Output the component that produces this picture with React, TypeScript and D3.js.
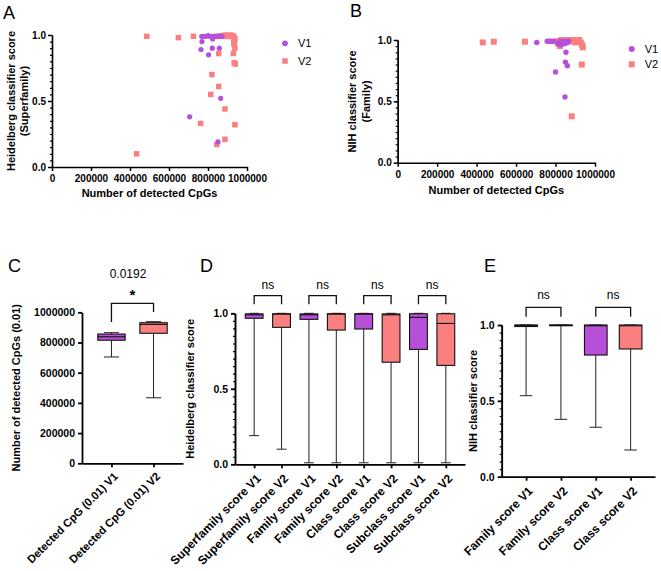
import * as d3 from "d3";
import { useEffect, useRef } from "react";

const FONT = "'Liberation Sans', Arial, Helvetica, sans-serif";
const PURPLE = "#B650D9";
const SALMON = "#FA8080";

// scatter panels: [number of detected CpGs, classifier score]
const heidelbergV1 = [
    [768000, 0.99], [778000, 0.99], [790000, 0.99], [800000, 0.995], [810000, 0.99], [818000, 0.99],
    [826000, 0.985], [834000, 0.99], [842000, 0.99], [850000, 0.99], [858000, 0.99], [866000, 0.99],
    [872000, 0.99], [824000, 0.97], [769000, 0.95], [764000, 0.89], [822000, 0.90], [858000, 0.90],
    [803000, 0.85], [865000, 0.52], [706000, 0.38], [851000, 0.19],
];
const heidelbergV2 = [
    [486000, 0.99], [648000, 0.98], [725000, 0.99], [840000, 0.99], [860000, 0.99], [870000, 0.995],
    [880000, 0.99], [888000, 1.0], [895000, 0.99], [902000, 0.995], [908000, 0.99], [914000, 1.0],
    [920000, 0.99], [925000, 0.995], [930000, 0.99], [935000, 0.98], [938000, 0.97], [932000, 0.96],
    [936000, 0.95], [933000, 0.93], [938000, 0.90], [930000, 0.86], [934000, 0.79], [940000, 0.78],
    [855000, 0.86], [820000, 0.70], [855000, 0.61], [814000, 0.55], [887000, 0.44], [762000, 0.33],
    [938000, 0.32], [887000, 0.21], [845000, 0.17], [434000, 0.10],
];
const nihV1 = [
    [705000, 0.98], [758000, 0.99], [768000, 0.99], [778000, 0.99], [789000, 0.99], [812000, 0.97],
    [818000, 0.99], [825000, 0.96], [830000, 0.98], [838000, 0.99], [845000, 0.97], [852000, 0.99],
    [860000, 0.98], [866000, 0.99], [853000, 0.90], [850000, 0.82], [860000, 0.79], [800000, 0.74],
    [848000, 0.535],
];
const nihV2 = [
    [431000, 0.98], [487000, 0.986], [645000, 0.986], [808000, 0.99], [815000, 0.97], [822000, 0.95],
    [830000, 1.0], [840000, 0.99], [850000, 0.98], [860000, 1.0], [870000, 0.99], [880000, 0.99],
    [890000, 1.0], [900000, 0.98], [910000, 0.99], [920000, 1.0], [928000, 0.98], [935000, 0.96],
    [938000, 0.94], [933000, 0.80], [882000, 0.378],
];
const cpgTicks = [0, 200000, 400000, 600000, 800000, 1000000];
const scoreTicks = [0, 0.5, 1.0];

// box panels: [min, q1, median, q3, max]
const cpgCategories = ["Detected CpG (0.01) V1", "Detected CpG (0.01) V2"];
const cpgStats = [
    [704000, 815000, 838000, 856000, 865000],
    [434000, 861000, 920000, 931000, 938000],
];
const heidelCategories = [
    "Superfamily score V1", "Superfamily score V2", "Family score V1", "Family score V2",
    "Class score V1", "Class score V2", "Subclass score V1", "Subclass score V2",
];
const heidelStats = [
    [0.19, 0.967, 0.99, 0.996, 1.0],
    [0.10, 0.907, 0.995, 0.997, 1.0],
    [0.01, 0.96, 0.99, 0.996, 1.0],
    [0.01, 0.889, 0.995, 0.997, 1.0],
    [0.01, 0.896, 0.995, 0.997, 1.0],
    [0.01, 0.676, 0.99, 0.996, 1.0],
    [0.01, 0.761, 0.973, 0.997, 1.0],
    [0.01, 0.655, 0.933, 0.997, 1.0],
];
const nihCategories = ["Family score V1", "Family score V2", "Class score V1", "Class score V2"];
const nihStats = [
    [0.534, 0.99, 0.998, 1.0, 1.0],
    [0.378, 0.995, 0.999, 1.0, 1.0],
    [0.326, 0.802, 0.995, 1.0, 1.0],
    [0.176, 0.842, 0.995, 1.0, 1.0],
];

const styleAxis = (g, size, width) => {
    g.select(".domain").attr("stroke", "#000").attr("stroke-width", width);
    g.selectAll(".tick line").attr("stroke", "#000").attr("stroke-width", width);
    g.selectAll("text")
        .attr("font-family", FONT)
        .attr("font-weight", "bold")
        .attr("font-size", size)
        .attr("fill", "#000");
};

const rotLabel = (svg, text, x, y, size) => {
    svg.append("text")
        .attr("transform", `translate(${x},${y}) rotate(-90)`)
        .attr("text-anchor", "middle")
        .attr("dy", "0.35em")
        .attr("font-family", FONT)
        .attr("font-weight", "bold")
        .attr("font-size", size)
        .text(text);
};

const plainText = (svg, text, x, y, size, anchor = "start", weight = "normal") => {
    svg.append("text")
        .attr("x", x)
        .attr("y", y)
        .attr("text-anchor", anchor)
        .attr("font-family", FONT)
        .attr("font-weight", weight)
        .attr("font-size", size)
        .text(text);
};

const scatterPanel = (svg, o) => {
    const x = d3.scaleLinear().domain([0, 1000000]).range([o.x0, o.x1]);
    const y = d3.scaleLinear().domain([0, 1]).range([o.y0, o.y1]);

    const minor = svg.append("g")
        .attr("transform", `translate(${o.x0},0)`)
        .call(d3.axisLeft(y).tickValues(d3.range(0, 1.001, 0.05)).tickSize(2).tickSizeOuter(0).tickFormat(() => ""));
    styleAxis(minor, 10, 1.2);

    const yAxis = svg.append("g")
        .attr("transform", `translate(${o.x0},0)`)
        .call(d3.axisLeft(y).tickValues(scoreTicks).tickFormat(d3.format(".1f")).tickSize(4).tickSizeOuter(0).tickPadding(2));
    styleAxis(yAxis, 10, 1.5);

    const xAxis = svg.append("g")
        .attr("transform", `translate(0,${o.y0})`)
        .call(d3.axisBottom(x).tickValues(cpgTicks).tickFormat(d3.format("d")).tickSize(4).tickSizeOuter(0).tickPadding(4));
    styleAxis(xAxis, 10, 1.5);

    svg.append("g")
        .selectAll("rect")
        .data(o.v2)
        .join("rect")
        .attr("x", d => x(d[0]) - o.sq / 2)
        .attr("y", d => y(d[1]) - o.sq / 2)
        .attr("width", o.sq)
        .attr("height", o.sq)
        .attr("fill", SALMON);

    svg.append("g")
        .selectAll("circle")
        .data(o.v1)
        .join("circle")
        .attr("cx", d => x(d[0]))
        .attr("cy", d => y(d[1]))
        .attr("r", o.r)
        .attr("fill", PURPLE);

    o.yTitle.forEach((t, i) => rotLabel(svg, t, o.yTitleX[i], (o.y0 + o.y1) / 2, 11));
    plainText(svg, "Number of detected CpGs", (o.x0 + o.x1) / 2, o.xTitleY, 11, "middle", "bold");

    svg.append("circle").attr("cx", o.legX).attr("cy", o.legY[0]).attr("r", o.r + 0.3).attr("fill", PURPLE);
    svg.append("rect")
        .attr("x", o.legX - o.sq / 2).attr("y", o.legY[1] - o.sq / 2)
        .attr("width", o.sq).attr("height", o.sq).attr("fill", SALMON);
    plainText(svg, "V1", o.legX + 13, o.legY[0] + 4, 11);
    plainText(svg, "V2", o.legX + 13, o.legY[1] + 4, 11);
};

const boxPanel = (svg, o) => {
    const x = d3.scalePoint().domain(o.cats).range([o.xl, o.xr]).padding(0.7);
    const y = d3.scaleLinear().domain(o.yDomain).range([o.yb, o.yt]);
    const bw = x.step() * 0.65;
    const cw = bw * 0.55;

    if (o.minor) {
        const minor = svg.append("g")
            .attr("transform", `translate(${o.xl},0)`)
            .call(d3.axisLeft(y).tickValues(d3.range(0, 1.001, 0.05)).tickSize(2).tickSizeOuter(0).tickFormat(() => ""));
        styleAxis(minor, 10, 1.2);
    }
    const yAxis = svg.append("g")
        .attr("transform", `translate(${o.xl},0)`)
        .call(d3.axisLeft(y).tickValues(o.yTicks).tickFormat(o.yFmt).tickSize(4).tickSizeOuter(0).tickPadding(3));
    styleAxis(yAxis, 10.5, 1.8);

    const xAxis = svg.append("g")
        .attr("transform", `translate(0,${o.yb})`)
        .call(d3.axisBottom(x).tickSize(4).tickSizeOuter(0));
    styleAxis(xAxis, o.catFont, 1.8);
    xAxis.selectAll("text")
        .attr("text-anchor", "end")
        .attr("x", 0)
        .attr("y", 0)
        .attr("dy", "0.35em")
        .attr("transform", `translate(4,${o.catDy}) rotate(-45)`);

    const g = svg.append("g");
    o.stats.forEach((s, i) => {
        const cx = x(o.cats[i]);
        const [mn, q1, md, q3, mx] = s;
        g.append("line").attr("x1", cx).attr("x2", cx).attr("y1", y(mn)).attr("y2", y(mx))
            .attr("stroke", "#222").attr("stroke-width", 1);
        [mn, mx].forEach(v => {
            g.append("line").attr("x1", cx - cw / 2).attr("x2", cx + cw / 2).attr("y1", y(v)).attr("y2", y(v))
                .attr("stroke", "#222").attr("stroke-width", 1);
        });
        g.append("rect")
            .attr("x", cx - bw / 2).attr("y", y(q3))
            .attr("width", bw).attr("height", Math.max(y(q1) - y(q3), 0.5))
            .attr("fill", i % 2 === 0 ? PURPLE : SALMON)
            .attr("stroke", "#111").attr("stroke-width", 1.1);
        g.append("line").attr("x1", cx - bw / 2).attr("x2", cx + bw / 2).attr("y1", y(md)).attr("y2", y(md))
            .attr("stroke", "#111").attr("stroke-width", 1.1);
    });

    o.pairs.forEach(([a, b], k) => {
        const xa = x(o.cats[a]);
        const xb = x(o.cats[b]);
        const legs = o.legs ? o.legs[k] : [o.legBottom, o.legBottom];
        g.append("path")
            .attr("d", `M${xa},${legs[0]}V${o.bracketY}H${xb}V${legs[1]}`)
            .attr("fill", "none").attr("stroke", "#111").attr("stroke-width", 1.3);
        plainText(svg, o.sigText, (xa + xb) / 2, o.sigY, o.sigSize, "middle", o.sigWeight);
    });

    rotLabel(svg, o.yTitle, o.yTitleX, (o.yb + o.yt) / 2, 11);
};

const App = () => {
    const svgRef = useRef(null);

    useEffect(() => {
        const svg = d3.select(svgRef.current);
        svg.selectAll("*").remove();

        scatterPanel(svg, {
            x0: 52, x1: 247, y0: 167, y1: 35, v1: heidelbergV1, v2: heidelbergV2, r: 2.6, sq: 5.5,
            yTitle: ["Heidelberg classifier score", "(Superfamily)"], yTitleX: [11.5, 24.5], xTitleY: 197,
            legX: 285, legY: [43.3, 61],
        });
        scatterPanel(svg, {
            x0: 397.7, x1: 595, y0: 162.7, y1: 40, v1: nihV1, v2: nihV2, r: 2.7, sq: 6,
            yTitle: ["NIH classifier score", "(Family)"], yTitleX: [352, 366], xTitleY: 194,
            legX: 631.7, legY: [49, 64.3],
        });

        boxPanel(svg, {
            cats: cpgCategories, stats: cpgStats, xl: 82, xr: 183, yb: 463.3, yt: 312.3,
            yDomain: [0, 1000000], yTicks: cpgTicks, yFmt: d3.format("d"), minor: false,
            catFont: 11.2, catDy: 11,
            yTitle: "Number of detected CpGs (0.01)", yTitleX: 16,
            pairs: [[0, 1]], legs: [[322, 312]], bracketY: 303.3, sigText: "*", sigY: 300, sigSize: 15, sigWeight: "bold",
        });
        plainText(svg, "0.0192", 128, 278, 12, "middle");

        boxPanel(svg, {
            cats: heidelCategories, stats: heidelStats, xl: 235, xr: 465, yb: 464.3, yt: 313.3,
            yDomain: [0, 1], yTicks: scoreTicks, yFmt: d3.format(".1f"), minor: true,
            catFont: 12, catDy: 12,
            yTitle: "Heidelberg classifier score", yTitleX: 190,
            pairs: [[0, 1], [2, 3], [4, 5], [6, 7]], legBottom: 304.3, bracketY: 295.7,
            sigText: "ns", sigY: 288.5, sigSize: 12, sigWeight: "normal",
        });

        boxPanel(svg, {
            cats: nihCategories, stats: nihStats, xl: 501.7, xr: 655, yb: 476.7, yt: 325,
            yDomain: [0, 1], yTicks: scoreTicks, yFmt: d3.format(".1f"), minor: true,
            catFont: 12, catDy: 12,
            yTitle: "NIH classifier score", yTitleX: 473,
            pairs: [[0, 1], [2, 3]], legBottom: 316.7, bracketY: 307.3,
            sigText: "ns", sigY: 299, sigSize: 12, sigWeight: "normal",
        });

        plainText(svg, "A", 3, 18.5, 18);
        plainText(svg, "B", 350, 17, 18);
        plainText(svg, "C", 8, 272, 18);
        plainText(svg, "D", 200, 272, 18);
        plainText(svg, "E", 484, 272, 18);
    }, []);

    return (
        <svg
            ref={svgRef}
            width={661}
            height={571}
            style={{ position: "absolute", left: 0, top: 0, background: "#fff" }}
        />
    );
};

export default App;
